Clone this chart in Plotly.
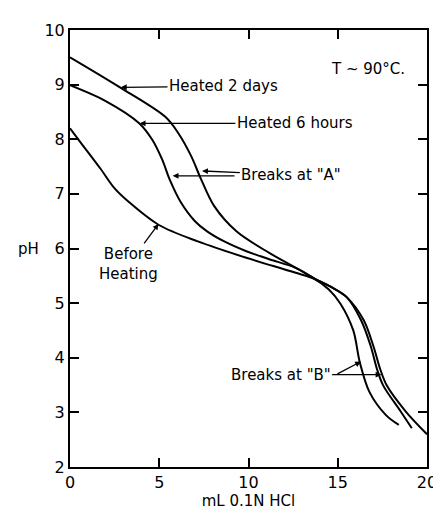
import plotly.graph_objects as go

# Data (x: mL 0.1N HCl, y: pH)
before_x = [0, 0.62, 1.71, 2.5, 3.3, 4.98, 7.16, 9.88, 12.6, 13.7, 14.5, 15.15, 15.87, 16.24, 16.78, 17.7, 18.42]
before_y = [8.2, 7.93, 7.46, 7.1, 6.85, 6.43, 6.13, 5.83, 5.56, 5.44, 5.25, 4.99, 4.5, 3.91, 3.37, 2.95, 2.77]

h6_x = [0, 2.0, 3.89, 4.61, 5.16, 5.6, 6.2, 7.0, 7.7, 8.7, 9.88, 11.2, 12.6, 13.7, 14.6, 15.5, 16.3, 16.85, 17.2, 17.55, 18.5, 19.15]
h6_y = [8.99, 8.7, 8.29, 7.99, 7.63, 7.25, 6.85, 6.5, 6.31, 6.12, 5.95, 5.8, 5.65, 5.45, 5.3, 5.11, 4.69, 4.21, 3.79, 3.49, 3.03, 2.71]

d2_x = [0, 2.8, 5.34, 6.07, 6.79, 7.34, 8.07, 9.34, 11.16, 12.97, 13.7, 14.6, 15.5, 16.45, 17.0, 17.38, 17.75, 18.8, 20.0]
d2_y = [9.5, 8.95, 8.41, 8.11, 7.69, 7.27, 6.78, 6.31, 5.92, 5.59, 5.45, 5.3, 5.11, 4.69, 4.21, 3.79, 3.49, 3.02, 2.6]

x_ticks = [0, 5, 10, 15, 20]
y_ticks = [2, 3, 4, 5, 6, 7, 8, 9, 10]

FONT = "DejaVu Sans"
line = dict(color="black", width=2, shape="spline", smoothing=0.9)

fig = go.Figure()
for xs, ys in [(before_x, before_y), (h6_x, h6_y), (d2_x, d2_y)]:
    fig.add_trace(go.Scatter(x=xs, y=ys, mode="lines", line=line, showlegend=False, hoverinfo="skip"))

def ann(text, x, y, ax, ay, arrow=True, **kw):
    fig.add_annotation(text=text, x=x, y=y, ax=ax, ay=ay, axref="x", ayref="y",
                       xref="x", yref="y", showarrow=arrow, arrowhead=2, arrowsize=0.9,
                       arrowwidth=1.3, arrowcolor="black",
                       font=dict(family=FONT, size=15, color="black"), **kw)

ann("Heated 2 days", 2.85, 8.95, 8.6, 8.97)
ann("Heated 6 hours", 3.9, 8.29, 12.6, 8.29)
fig.add_annotation(text="T ~ 90°C.", x=16.7, y=9.28, xref="x", yref="y", showarrow=False,
                   font=dict(family=FONT, size=15, color="black"))
ann('Breaks at "A"', 7.4, 7.42, 12.4, 7.35)
ann("", 5.75, 7.33, 9.3, 7.33)
ann("Before<br>Heating", 4.96, 6.45, 3.3, 5.72)
ann('Breaks at "B"', 17.45, 3.69, 11.8, 3.69)
ann("", 16.3, 3.93, 14.9, 3.69)

# horizontal "pH" axis label
fig.add_annotation(text="pH", x=-0.117, y=6, xref="paper", yref="y", xanchor="center",
                   showarrow=False, font=dict(family=FONT, size=15, color="black"))

axis_common = dict(showline=True, linecolor="black", linewidth=2, mirror="ticks",
                   ticks="inside", ticklen=9, tickwidth=1.5, tickcolor="black",
                   showgrid=False, zeroline=False,
                   tickfont=dict(family=FONT, size=16, color="black"))

fig.update_xaxes(range=[0, 20], tickvals=x_ticks, ticktext=[str(v) for v in x_ticks],
                 title=dict(text="mL 0.1N HCl", font=dict(family=FONT, size=15, color="black"), standoff=2),
                 **axis_common)
fig.update_yaxes(range=[2, 10], tickvals=y_ticks, ticktext=[str(v) for v in y_ticks],
                 **axis_common)

fig.update_layout(width=441, height=509, margin=dict(l=62, r=12, t=22, b=43),
                  plot_bgcolor="white", paper_bgcolor="white")

fig.write_html("out.html")
